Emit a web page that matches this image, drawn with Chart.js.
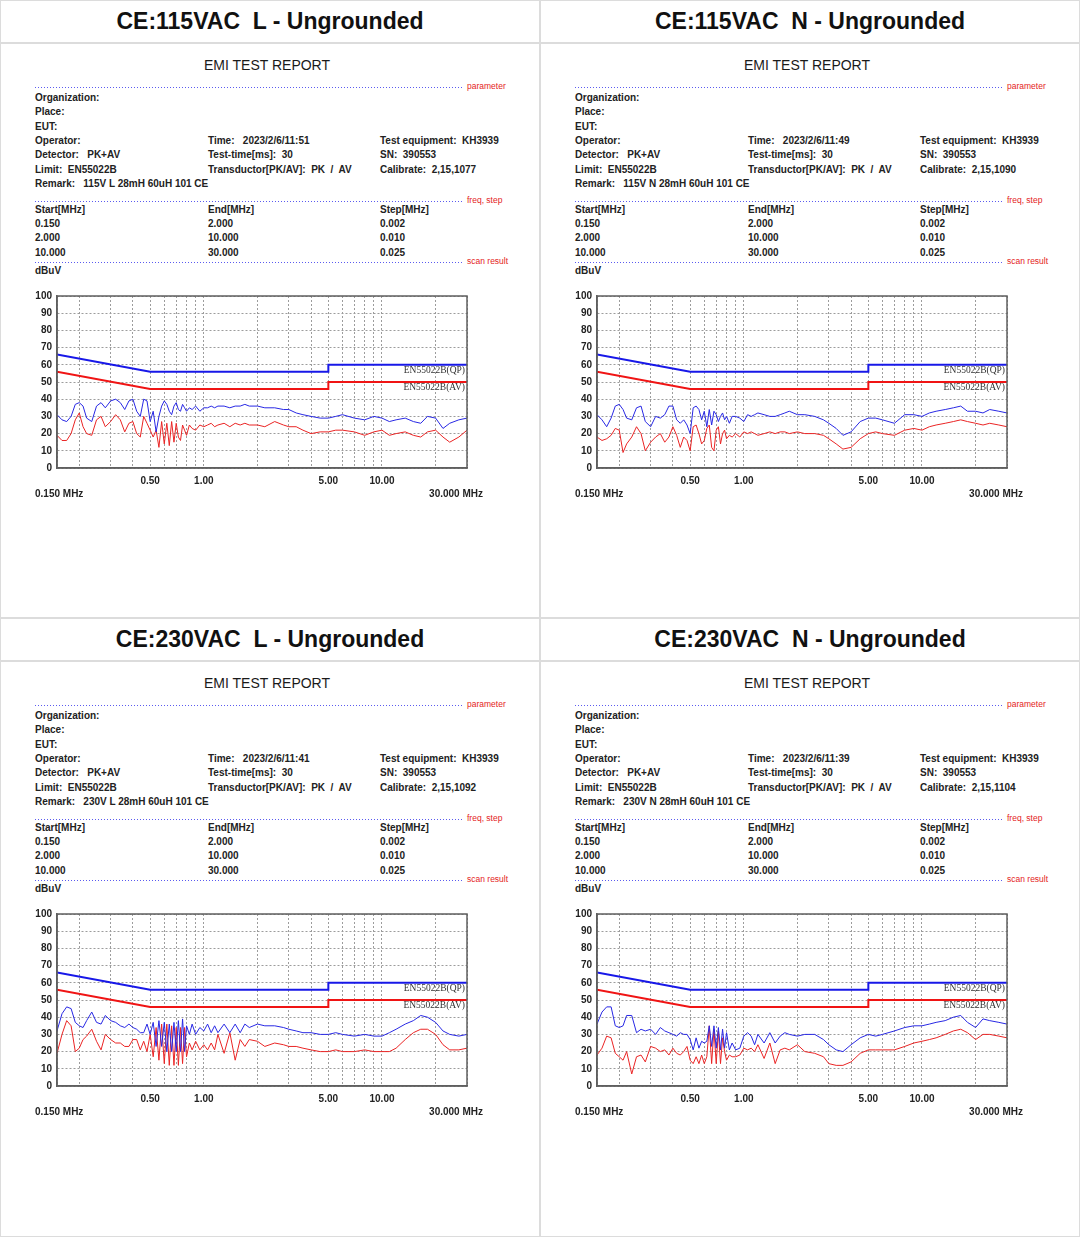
<!DOCTYPE html>
<html>
<head>
<meta charset="utf-8">
<title>EMI test reports</title>
<script src="https://cdn.jsdelivr.net/npm/chart.js@4.4.1/dist/chart.umd.min.js"></script>
<style>
  html, body { margin: 0; padding: 0; background: #fff; }
  #page { position: relative; width: 1080px; height: 1237px; overflow: hidden; font-family: "Liberation Sans", Arial, sans-serif; }
  .rule { position: absolute; background: #dcdcdc; }
  .t { position: absolute; white-space: pre; line-height: 12px; height: 12px; }
  .title { font: bold 23px "Liberation Sans", Arial, sans-serif; color: #111; line-height: 30px; height: 30px; text-align: center; }
  .head { font: 14px "Liberation Sans", Arial, sans-serif; color: #1a1a1a; line-height: 18px; height: 18px; text-align: center; }
  .info { font: bold 10px "Liberation Sans", Arial, sans-serif; color: #222; }
  .red { font: 8.5px "Liberation Sans", Arial, sans-serif; color: #e41c1c; }
  .dots { position: absolute; height: 1px; background-image: linear-gradient(to right, #5b5bf0 50%, transparent 50%); background-size: 3px 1px; }
  canvas { position: absolute; }
</style>
</head>
<body>
<div id="page"></div>
<script>
// ---- data (MHz / dBuV) ----
const freqs = [0.150, 0.160, 0.170, 0.180, 0.190, 0.200, 0.210, 0.220, 0.235, 0.250,
  0.265, 0.280, 0.300, 0.320, 0.340, 0.360, 0.380, 0.400, 0.420, 0.440,
  0.460, 0.480, 0.500, 0.520, 0.540, 0.560, 0.580, 0.600, 0.620, 0.640,
  0.660, 0.680, 0.700, 0.720, 0.740, 0.760, 0.780, 0.800, 0.830, 0.860,
  0.900, 0.950, 1.00, 1.05, 1.10, 1.15, 1.20, 1.30, 1.40, 1.50,
  1.60, 1.70, 1.80, 2.00, 2.20, 2.50, 2.80, 3.00, 3.30, 3.60,
  4.00, 4.50, 5.00, 5.50, 6.00, 7.00, 8.00, 9.00, 10.0, 11.0,
  12.0, 13.5, 15.0, 16.5, 18.0, 20.0, 22.0, 24.0, 27.0, 30.0];

const pk115L = [31, 28, 27, 30, 37, 38, 36, 29, 27, 36, 38, 35, 39, 40, 38, 34, 39, 40, 33, 30,
  40, 39, 27, 33, 21, 30, 36, 39, 37, 33, 31, 36, 38, 34, 33, 37, 35, 33, 35, 34,
  36, 33, 35, 35, 36, 35, 36, 36, 35, 36, 36, 37, 36, 36, 35, 35, 34, 34, 32, 31,
  30, 29, 29, 30, 31, 29, 28, 30, 29, 27, 28, 29, 27, 26, 30, 29, 23, 26, 28, 29];
const av115L = [19, 16, 16, 20, 28, 32, 24, 20, 19, 28, 30, 24, 27, 31, 28, 21, 26, 27, 20, 18,
  30, 26, 22, 18, 22, 12, 27, 14, 26, 13, 27, 15, 26, 18, 16, 25, 22, 19, 25, 23,
  22, 25, 24, 25, 26, 24, 25, 26, 24, 26, 25, 26, 25, 25, 24, 27, 25, 24, 24, 22,
  20, 21, 21, 22, 22, 21, 19, 21, 22, 19, 20, 21, 19, 18, 21, 22, 18, 15, 18, 22];

const pk115N = [31, 28, 24, 29, 36, 37, 34, 29, 28, 35, 36, 27, 24, 30, 29, 31, 36, 36, 28, 26,
  28, 25, 20, 35, 36, 34, 28, 33, 24, 34, 25, 33, 31, 27, 30, 32, 28, 30, 26, 30,
  30, 29, 27, 31, 30, 31, 32, 31, 30, 30, 31, 32, 33, 31, 31, 30, 28, 26, 23, 19,
  21, 27, 29, 29, 28, 26, 31, 31, 30, 32, 33, 34, 35, 36, 33, 33, 32, 34, 33, 32];
const av115N = [18, 16, 17, 19, 23, 22, 9, 14, 18, 24, 20, 10, 15, 18, 20, 15, 18, 24, 19, 12,
  18, 16, 10, 24, 25, 20, 14, 16, 23, 25, 12, 10, 22, 24, 14, 20, 22, 17, 19, 18,
  20, 18, 21, 20, 21, 20, 19, 20, 21, 20, 21, 21, 20, 21, 20, 20, 19, 17, 14, 11,
  12, 17, 20, 21, 20, 19, 22, 23, 22, 24, 25, 26, 27, 28, 27, 26, 25, 26, 25, 24];

const pk230L = [32, 42, 46, 45, 37, 35, 34, 38, 43, 37, 36, 41, 38, 37, 35, 34, 36, 34, 33, 31,
  31, 36, 30, 37, 23, 38, 23, 37, 20, 36, 20, 37, 20, 38, 20, 39, 20, 35, 30, 36,
  30, 34, 32, 36, 31, 35, 31, 36, 31, 36, 31, 36, 34, 36, 35, 35, 34, 33, 32, 31,
  31, 30, 30, 31, 30, 29, 30, 29, 29, 31, 33, 36, 38, 41, 40, 37, 32, 30, 29, 30];
const av230L = [19, 30, 38, 35, 20, 22, 27, 29, 33, 26, 21, 30, 27, 25, 25, 23, 23, 27, 27, 21,
  26, 20, 30, 17, 34, 15, 36, 13, 36, 12, 35, 12, 34, 12, 34, 13, 34, 17, 25, 21,
  26, 21, 24, 21, 25, 21, 30, 19, 31, 15, 27, 23, 27, 26, 23, 25, 24, 23, 23, 22,
  21, 20, 20, 21, 20, 20, 21, 20, 20, 20, 22, 27, 31, 33, 33, 30, 24, 21, 21, 22];

const pk230N = [36, 43, 46, 46, 35, 34, 35, 41, 41, 31, 33, 32, 33, 30, 34, 32, 31, 30, 29, 31,
  30, 30, 27, 21, 28, 22, 26, 25, 26, 35, 23, 35, 22, 34, 21, 33, 22, 31, 21, 25,
  21, 22, 29, 31, 29, 24, 30, 25, 31, 25, 29, 31, 30, 29, 30, 30, 27, 24, 21, 20,
  24, 28, 30, 29, 30, 32, 34, 35, 35, 36, 37, 38, 40, 41, 37, 34, 39, 38, 37, 36];
const av230N = [18, 22, 29, 28, 19, 17, 15, 20, 7, 17, 18, 14, 23, 22, 20, 21, 18, 22, 19, 18,
  20, 23, 15, 13, 17, 13, 18, 13, 17, 35, 13, 33, 13, 32, 13, 28, 20, 15, 18, 17,
  17, 18, 22, 21, 22, 20, 24, 16, 25, 13, 21, 22, 21, 24, 20, 19, 17, 13, 12, 12,
  14, 19, 21, 21, 21, 21, 23, 25, 26, 27, 28, 30, 32, 33, 31, 27, 30, 30, 29, 28];

// EN55022 class B limits
const limitFreqs = [0.15, 0.5, 5, 5, 30];
const qpLimit = [66, 56, 56, 60, 60];
const avLimit = [56, 46, 46, 50, 50];
const limitNames = ['EN55022B(QP)', 'EN55022B(AV)'];

// axis ticks
const gridFreqs = [0.15, 0.2, 0.3, 0.4, 0.5, 0.6, 0.7, 0.8, 0.9, 1, 2, 3, 4, 5, 6, 7, 8, 9, 10, 20, 30];
const xTickLabels = { 0.5: '0.50', 1: '1.00', 5: '5.00', 10: '10.00' };

// report header fields
const titles = ['CE:115VAC  L - Ungrounded', 'CE:115VAC  N - Ungrounded', 'CE:230VAC  L - Ungrounded', 'CE:230VAC  N - Ungrounded'];
const times = ['2023/2/6/11:51', '2023/2/6/11:49', '2023/2/6/11:41', '2023/2/6/11:39'];
const calibrates = ['2,15,1077', '2,15,1090', '2,15,1092', '2,15,1104'];
const remarks = ['115V L 28mH 60uH 101 CE', '115V N 28mH 60uH 101 CE', '230V L 28mH 60uH 101 CE', '230V N 28mH 60uH 101 CE'];
const pkSeries = [pk115L, pk115N, pk230L, pk230N];
const avSeries = [av115L, av115N, av230L, av230N];

const origins = [[0, 0], [540, 0], [0, 618], [540, 618]];
const page = document.getElementById('page');

function rule(x, y, w, h) {
  const d = document.createElement('div');
  d.className = 'rule';
  d.style.left = x + 'px'; d.style.top = y + 'px';
  d.style.width = w + 'px'; d.style.height = h + 'px';
  page.appendChild(d);
}

// text placed by its vertical centre
function txt(x, y, s, cls, align) {
  const d = document.createElement('div');
  d.className = 't ' + cls;
  d.textContent = s;
  page.appendChild(d);
  const h = d.offsetHeight;
  d.style.top = (y - h / 2) + 'px';
  if (align === 'center') {
    d.style.left = (x - 250) + 'px';
    d.style.width = '500px';
    d.style.textAlign = 'center';
  } else if (align === 'right') {
    d.style.right = (1080 - x) + 'px';
  } else {
    d.style.left = x + 'px';
  }
}

function dots(x, y, w) {
  const d = document.createElement('div');
  d.className = 'dots';
  d.style.left = x + 'px'; d.style.top = y + 'px'; d.style.width = w + 'px';
  page.appendChild(d);
}

// closed frame around the plot area
const frame = {
  id: 'frame',
  afterDraw(chart) {
    const { ctx, chartArea: a } = chart;
    ctx.save();
    ctx.strokeStyle = '#5f5f5f';
    ctx.lineWidth = 1.5;
    ctx.strokeRect(a.left, a.top, a.right - a.left, a.bottom - a.top);
    ctx.restore();
  }
};

// limit names under the right end of each limit line
const limitText = {
  id: 'limitText',
  afterDatasetsDraw(chart) {
    const { ctx, chartArea, scales: { y } } = chart;
    ctx.save();
    ctx.font = '9.5px "Liberation Serif", serif';
    ctx.fillStyle = '#333';
    ctx.textAlign = 'right';
    ctx.textBaseline = 'middle';
    ctx.fillText(limitNames[0], chartArea.right - 2, y.getPixelForValue(qpLimit[qpLimit.length - 1]) + 6);
    ctx.fillText(limitNames[1], chartArea.right - 2, y.getPixelForValue(avLimit[avLimit.length - 1]) + 5);
    ctx.restore();
  }
};

const tickFont = { family: '"Liberation Sans", Arial, sans-serif', weight: 'bold', size: 10 };
const pts = (xs, ys) => xs.map((x, i) => ({ x: x, y: ys[i] }));

function makeChart(ox, oy, pk, av) {
  const c = document.createElement('canvas');
  c.width = 480; c.height = 220;
  c.style.left = (ox + 20) + 'px';
  c.style.top = (oy + 285) + 'px';
  page.appendChild(c);

  new Chart(c, {
    type: 'line',
    data: {
      datasets: [
        { label: 'PK', data: pts(freqs, pk), borderColor: '#2828e4', borderWidth: 1, pointRadius: 0 },
        { label: 'AV', data: pts(freqs, av), borderColor: '#ea2424', borderWidth: 1, pointRadius: 0 },
        { label: limitNames[0], data: pts(limitFreqs, qpLimit), borderColor: '#1818e8', borderWidth: 2, pointRadius: 0 },
        { label: limitNames[1], data: pts(limitFreqs, avLimit), borderColor: '#f01414', borderWidth: 2, pointRadius: 0 }
      ]
    },
    options: {
      responsive: false,
      animation: false,
      layout: { padding: { top: 10, right: 33, left: 0, bottom: 0 } },
      plugins: { legend: { display: false }, tooltip: { enabled: false } },
      scales: {
        x: {
          type: 'logarithmic',
          min: 0.15,
          max: 30,
          afterBuildTicks: s => { s.ticks = gridFreqs.map(v => ({ value: v })); },
          afterFit: s => { s.height = 37; },
          ticks: {
            autoSkip: false, maxRotation: 0, minRotation: 0, padding: 7,
            color: '#222', font: tickFont,
            callback: v => xTickLabels[v] || ''
          },
          grid: { color: '#9c9c9c', lineWidth: 1, drawTicks: false },
          border: { display: true, color: '#5f5f5f', width: 1.5, dash: [2, 2] }
        },
        y: {
          min: 0,
          max: 100,
          afterFit: s => { s.width = 37; },
          ticks: { stepSize: 10, padding: 5, color: '#222', font: tickFont },
          grid: { color: '#9c9c9c', lineWidth: 1, drawTicks: false },
          border: { display: true, color: '#5f5f5f', width: 1.5, dash: [2, 2] }
        }
      }
    },
    plugins: [frame, limitText]
  });
}

// cell rules
rule(0, 0, 1080, 1);
rule(0, 0, 1, 1237);
rule(1079, 0, 1, 1237);
rule(0, 1236, 1080, 1);
rule(539, 0, 1.5, 1237);
rule(0, 42, 1080, 1.5);
rule(0, 617, 1080, 1.5);
rule(0, 660, 1080, 1.5);

origins.forEach(([ox, oy], i) => {
  txt(ox + 270, oy + 21, titles[i], 'title', 'center');
  txt(ox + 267, oy + 65, 'EMI TEST REPORT', 'head', 'center');

  dots(ox + 35, oy + 87, 428);
  txt(ox + 467, oy + 87, 'parameter', 'red');
  dots(ox + 35, oy + 201, 428);
  txt(ox + 467, oy + 201, 'freq, step', 'red');
  dots(ox + 35, oy + 262, 428);
  txt(ox + 467, oy + 262, 'scan result', 'red');

  const c1 = ox + 35, c2 = ox + 208, c3 = ox + 380;
  txt(c1, oy + 98, 'Organization:', 'info');
  txt(c1, oy + 112, 'Place:', 'info');
  txt(c1, oy + 127, 'EUT:', 'info');
  txt(c1, oy + 141, 'Operator:', 'info');
  txt(c2, oy + 141, 'Time:   ' + times[i], 'info');
  txt(c3, oy + 141, 'Test equipment:  KH3939', 'info');
  txt(c1, oy + 155, 'Detector:   PK+AV', 'info');
  txt(c2, oy + 155, 'Test-time[ms]:  30', 'info');
  txt(c3, oy + 155, 'SN:  390553', 'info');
  txt(c1, oy + 170, 'Limit:  EN55022B', 'info');
  txt(c2, oy + 170, 'Transductor[PK/AV]:  PK  /  AV', 'info');
  txt(c3, oy + 170, 'Calibrate:  ' + calibrates[i], 'info');
  txt(c1, oy + 184, 'Remark:   ' + remarks[i], 'info');

  txt(c1, oy + 210, 'Start[MHz]', 'info');
  txt(c2, oy + 210, 'End[MHz]', 'info');
  txt(c3, oy + 210, 'Step[MHz]', 'info');
  txt(c1, oy + 224, '0.150', 'info');
  txt(c2, oy + 224, '2.000', 'info');
  txt(c3, oy + 224, '0.002', 'info');
  txt(c1, oy + 238, '2.000', 'info');
  txt(c2, oy + 238, '10.000', 'info');
  txt(c3, oy + 238, '0.010', 'info');
  txt(c1, oy + 253, '10.000', 'info');
  txt(c2, oy + 253, '30.000', 'info');
  txt(c3, oy + 253, '0.025', 'info');
  txt(c1, oy + 271, 'dBuV', 'info');

  makeChart(ox, oy, pkSeries[i], avSeries[i]);

  txt(c1, oy + 494, '0.150 MHz', 'info');
  txt(ox + 483, oy + 494, '30.000 MHz', 'info', 'right');
});
</script>
</body>
</html>
